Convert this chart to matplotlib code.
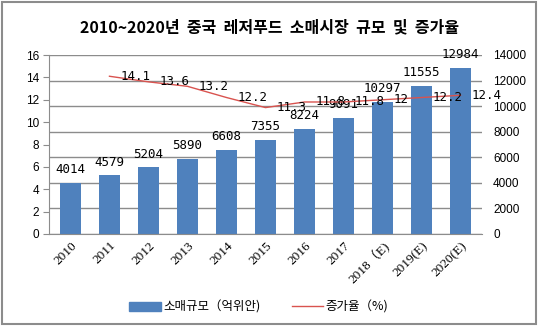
import matplotlib

matplotlib.use("Agg")
import matplotlib.pyplot as plt
from matplotlib.lines import Line2D
from matplotlib.patches import Patch, Rectangle
import numpy as np

plt.rcParams["font.family"] = ["Noto Sans CJK KR", "DejaVu Sans"]

years = ["2010", "2011", "2012", "2013", "2014", "2015", "2016", "2017",
         "2018（E)", "2019(E)", "2020(E)"]
retail_size = [4014, 4579, 5204, 5890, 6608, 7355, 8224, 9091, 10297, 11555, 12984]
growth_years = years[1:]
growth_rate = [14.1, 13.6, 13.2, 12.2, 11.3, 11.8, 11.8, 12, 12.2, 12.4]

title = "2010~2020년  중국  레저푸드  소매시장  규모  및  증가율"
bar_label = "소매규모（억위안)"
line_label = "증가율（%)"

bar_color = "#4F81BD"
line_color = "#D9534F"
grid_color = "#8C8C8C"

W, H = 539, 328
fig = plt.figure(figsize=(W / 100, H / 100), dpi=100)
fig.add_artist(Rectangle((2 / W, 4 / H), 534 / W, 322 / H, transform=fig.transFigure,
                         fill=False, edgecolor="#8C8C8C", linewidth=1.5))

# left axis: growth rate, right axis: retail size (bars)
ax_l = fig.add_axes([49 / W, 1 - 234 / H, (482 - 49) / W, (234 - 55) / H])
ax_r = ax_l.twinx()
ax_l.set_zorder(ax_r.get_zorder() + 1)
ax_l.patch.set_visible(False)

x = np.arange(len(years))
ax_r.bar(x, retail_size, width=0.56, color=bar_color, zorder=2)
for xi, v in zip(x, retail_size):
    ax_r.annotate(str(v), (xi, v), xytext=(0, 5), textcoords="offset points",
                  ha="center", va="bottom", fontsize=9, family="DejaVu Sans Mono")
ax_r.set_ylim(0, 14000)
ax_r.set_yticks(np.arange(0, 14001, 2000))
ax_r.yaxis.grid(True, color=grid_color, linewidth=1)
ax_r.set_axisbelow(True)

xg = x[1:]
ax_l.plot(xg, growth_rate, color=line_color, linewidth=1)
for xi, v in zip(xg, growth_rate):
    ax_l.annotate(f"{v:g}", (xi, v), xytext=(8, 0), textcoords="offset points",
                  ha="left", va="center", fontsize=9, family="DejaVu Sans Mono")
ax_l.set_ylim(0, 16)
ax_l.set_yticks(np.arange(0, 17, 2))
ax_l.set_xlim(-0.55, len(years) - 0.45)
ax_l.set_xticks(x)
ax_l.set_xticklabels(years, rotation=45, ha="right", rotation_mode="anchor",
                     fontsize=9.5, family=["Liberation Serif", "Noto Sans CJK KR"])

for a in (ax_l, ax_r):
    for s in ("top", "right", "left", "bottom"):
        a.spines[s].set_visible(False)
ax_l.spines["left"].set_visible(True)
ax_l.spines["left"].set_color(grid_color)
ax_l.spines["bottom"].set_visible(True)
ax_l.spines["bottom"].set_color(grid_color)
ax_l.tick_params(axis="y", labelsize=8.5, length=4, color=grid_color, pad=3)
ax_l.tick_params(axis="x", length=0, pad=4)
ax_r.tick_params(axis="y", labelsize=8.5, length=0, pad=8)
for lbl in ax_l.get_yticklabels() + ax_r.get_yticklabels():
    lbl.set_family("Liberation Sans")

fig.text(0.5, 1 - 27 / H, title, ha="center", va="center", fontsize=11.5,
         fontweight="bold")

handles = [Patch(color=bar_color), Line2D([], [], color=line_color, linewidth=1)]
fig.legend(handles, [bar_label, line_label], loc="center", ncol=2,
           bbox_to_anchor=(0.48, 1 - 307 / H), frameon=False, fontsize=9,
           handlelength=2.5, columnspacing=2.5, handletextpad=0.2)

fig.savefig("out.png", dpi=100)
